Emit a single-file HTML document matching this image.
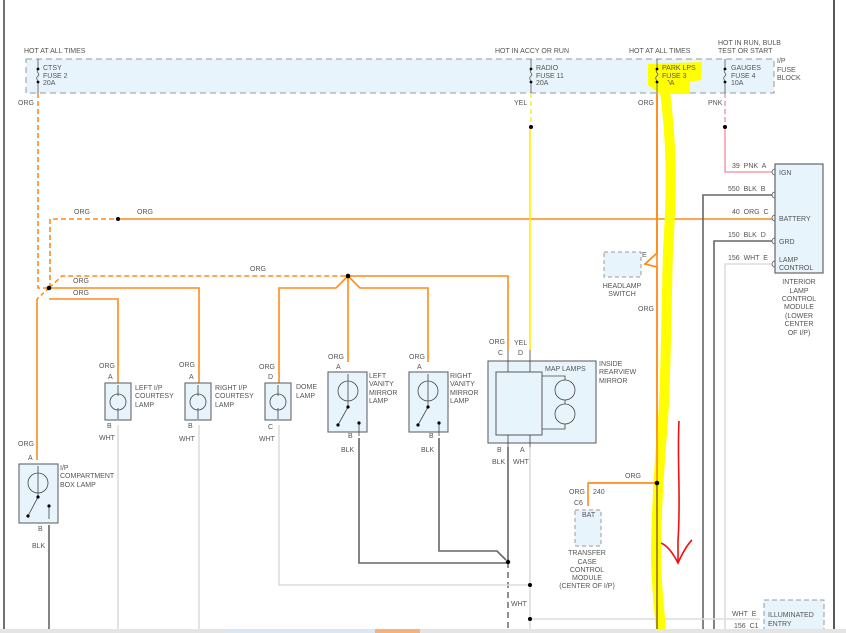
<!DOCTYPE html>
<html><head><meta charset="utf-8"><style>
html,body{margin:0;padding:0;background:#fff;width:846px;height:633px;overflow:hidden}
svg text{font-family:"Liberation Sans",sans-serif;font-size:7px;fill:#555;white-space:pre}
</style></head><body>
<svg width="846" height="633" viewBox="0 0 846 633" xmlns="http://www.w3.org/2000/svg" xml:space="preserve">
<line x1="4" y1="0" x2="4" y2="633" stroke="#444" stroke-width="1.5"/>
<line x1="834" y1="0" x2="834" y2="633" stroke="#222" stroke-width="1.5"/>
<rect x="26" y="59" width="748" height="34" fill="#e8f4fc" stroke="#999" stroke-dasharray="6,4"/>
<polygon points="648,64 702,62 701,80 690,82 690,94 660,94 648,85" fill="#ffff00"/>
<text x="24" y="53">HOT AT ALL TIMES</text>
<text x="495" y="53">HOT IN ACCY OR RUN</text>
<text x="629" y="53">HOT AT ALL TIMES</text>
<text x="718" y="45">HOT IN RUN, BULB</text>
<text x="718" y="53">TEST OR START</text>
<text x="777" y="63">I/P</text><text x="777" y="72">FUSE</text><text x="777" y="80">BLOCK</text>
<g stroke="#555" fill="none" stroke-width="0.8">
<path d="M38,59 V69 M38,82 V93 M38,69 c-3,3 3,5 0,7 c-3,2 0,4 0,6"/>
<path d="M531,59 V69 M531,82 V93 M531,69 c-3,3 3,5 0,7 c-3,2 0,4 0,6"/>
<path d="M657,59 V69 M657,82 V93 M657,69 c-3,3 3,5 0,7 c-3,2 0,4 0,6"/>
<path d="M725,59 V69 M725,82 V93 M725,69 c-3,3 3,5 0,7 c-3,2 0,4 0,6"/>
</g>
<g fill="#000"><circle cx="38" cy="69" r="1.4"/><circle cx="38" cy="82" r="1.4"/><circle cx="531" cy="69" r="1.4"/><circle cx="531" cy="82" r="1.4"/><circle cx="657" cy="69" r="1.4"/><circle cx="657" cy="82" r="1.4"/><circle cx="725" cy="69" r="1.4"/><circle cx="725" cy="82" r="1.4"/></g>
<text x="43" y="70">CTSY</text><text x="43" y="78">FUSE 2</text><text x="43" y="85">20A</text>
<text x="536" y="70">RADIO</text><text x="536" y="78">FUSE 11</text><text x="536" y="85">20A</text>
<text x="662" y="70">PARK LPS</text><text x="662" y="78">FUSE 3</text><text x="662" y="85">20A</text>
<text x="731" y="70">GAUGES</text><text x="731" y="78">FUSE 4</text><text x="731" y="85">10A</text>
<text x="18" y="105">ORG</text><text x="514" y="105">YEL</text><text x="638" y="105">ORG</text><text x="708" y="105">PNK</text>

<g stroke="#ff8c1a" stroke-width="1.6" fill="none">
<path d="M38,93 V288 H49" stroke-dasharray="5,3"/>
<path d="M50,288 V219 H118" stroke-dasharray="5,3"/>
<path d="M118,219 H772"/>
<path d="M49,288 L62,276 H348" stroke-dasharray="5,3"/>
<path d="M49,288 L37,299"  stroke-dasharray="4,3"/>
<path d="M37,299 V460"/>
<path d="M49,288 H199 V383"/>
<path d="M49,299 H118 V383"/>
<path d="M348,276 H508 V350"/>
<path d="M348,276 L336,288 H279 V383"/>
<path d="M348,276 V362"/>
<path d="M348,276 L360,288 H428 V362"/>
<path d="M657,93 V253 L645,264 L657,267"/>
<path d="M657,93 V483 H588 V506"/>
</g>
<path d="M531,93 V127" stroke="#ffee00" stroke-width="1.4" stroke-dasharray="5,3"/>
<path d="M530,127 V350" stroke="#ffee00" stroke-width="1.6" fill="none"/>
<path d="M725,93 V127" stroke="#f08a9a" stroke-width="1.3" stroke-dasharray="5,3"/>
<path d="M725,127 V172 H772" stroke="#f08a9a" stroke-width="1.3" fill="none"/>
<g stroke="#666" stroke-width="1.6" fill="none">
<path d="M772,195 H703 V633"/>
<path d="M772,241 H714 V633"/>
<path d="M49,525 V633"/>
<path d="M359,438 V563 H508"/>
<path d="M439,438 V551 H497 L506,560"/>
<path d="M508,447 V562"/>
</g>
<path d="M508,562 V633" stroke="#555" stroke-width="1.3" stroke-dasharray="6,4"/>
<g stroke="#ddd" stroke-width="1.6" fill="none">
<path d="M772,264 H725 V633"/>
<path d="M118,425 V633"/><path d="M199,425 V633"/>
<path d="M279,425 V585 H530"/>
<path d="M530,447 V630"/>
<path d="M530,619 H760"/>
</g>
<g fill="#000">
<circle cx="118" cy="219" r="2"/><circle cx="49" cy="288" r="2.3"/><circle cx="348" cy="276" r="2.3"/>
<circle cx="531" cy="127" r="2"/><circle cx="725" cy="127" r="2"/>
<circle cx="508" cy="562" r="2.2"/><circle cx="530" cy="585" r="2"/><circle cx="530" cy="619" r="2"/>
</g>

<rect x="775" y="164" width="48" height="109" fill="#e8f4fc" stroke="#666" stroke-width="1.2"/>
<g stroke="#555" fill="none" stroke-width="0.8">
<path d="M775,169 a3,3 0 0 0 0,6"/><path d="M775,192 a3,3 0 0 0 0,6"/><path d="M775,215 a3,3 0 0 0 0,6"/><path d="M775,238 a3,3 0 0 0 0,6"/><path d="M775,261 a3,3 0 0 0 0,6"/>
</g>
<text x="779" y="175">IGN</text><text x="779" y="221">BATTERY</text><text x="779" y="244">GRD</text><text x="779" y="262">LAMP</text><text x="779" y="270">CONTROL</text>
<text x="732" y="168">39  PNK  A</text><text x="728" y="191">550  BLK  B</text><text x="732" y="214">40  ORG  C</text><text x="728" y="237">150  BLK  D</text><text x="728" y="260">156  WHT  E</text>
<g text-anchor="middle"><text x="799" y="284">INTERIOR</text><text x="799" y="293">LAMP</text><text x="799" y="301">CONTROL</text><text x="799" y="309">MODULE</text><text x="799" y="318">(LOWER</text><text x="799" y="326">CENTER</text><text x="799" y="335">OF I/P)</text></g>

<rect x="604" y="252" width="37" height="25" fill="#e8f4fc" stroke="#999" stroke-dasharray="4,3"/>
<g text-anchor="middle"><text x="622" y="288">HEADLAMP</text><text x="622" y="296">SWITCH</text></g>
<text x="638" y="311">ORG</text>

<path d="M664,84 C672,140 672,190 668,250 C666,320 666,380 663,420 C658,480 656,520 656,560 C657,600 661,620 661,633" stroke="#ffff00" stroke-width="10" fill="none" stroke-linecap="round"/>
<path d="M657,93 V253 L645,264 L657,267 V483 H588" stroke="#ff8c1a" stroke-width="1.6" fill="none"/>
<path d="M657,483 V633" stroke="#8a5a20" stroke-width="1.4"/>
<circle cx="657" cy="483" r="2.3" fill="#000"/>
<text x="642" y="257">E</text>

<g stroke="#666" fill="#e8f4fc" stroke-width="1.1">
<rect x="105" y="383" width="26" height="37"/><rect x="185" y="383" width="26" height="37"/><rect x="265" y="383" width="26" height="37"/>
<rect x="328" y="372" width="39" height="60"/><rect x="409" y="372" width="39" height="60"/>
<rect x="19" y="464" width="39" height="59"/>
<rect x="488" y="361" width="108" height="82"/><rect x="496" y="372" width="46" height="63"/>
</g>
<g stroke="#444" fill="none" stroke-width="0.8">
<circle cx="118" cy="402" r="8"/><circle cx="198" cy="402" r="8"/><circle cx="278" cy="402" r="8"/>
<path d="M118,385 V396 M118,408 V419 M198,385 V396 M198,408 V419 M278,385 V396 M278,408 V419"/>
<circle cx="348" cy="391" r="10"/><circle cx="428" cy="391" r="10"/><circle cx="38" cy="483" r="10"/>
<path d="M348,374 V407 L338,425 M428,374 V407 L418,425 M38,466 V497 L28,516"/>
<path d="M359,423 V436 M439,423 V436 M49,506 V519"/>
<circle cx="565" cy="390" r="10"/><circle cx="565" cy="414" r="10"/>
<path d="M542,376 H565 V380 M565,400 V404 M565,424 V429 H542"/>
<path d="M508,350 V372 M530,350 V372 M508,435 V447 M530,435 V447"/>
</g>
<g fill="#000">
<circle cx="348" cy="407" r="1.6"/><circle cx="338" cy="425" r="1.6"/><circle cx="359" cy="423" r="1.6"/>
<circle cx="428" cy="407" r="1.6"/><circle cx="418" cy="425" r="1.6"/><circle cx="439" cy="423" r="1.6"/>
<circle cx="38" cy="497" r="1.6"/><circle cx="28" cy="516" r="1.6"/><circle cx="49" cy="506" r="1.6"/>
</g>
<text x="99" y="368">ORG</text><text x="108" y="379">A</text><text x="135" y="390">LEFT I/P</text><text x="135" y="398">COURTESY</text><text x="135" y="407">LAMP</text><text x="107" y="428">B</text><text x="99" y="440">WHT</text>
<text x="179" y="367">ORG</text><text x="189" y="379">A</text><text x="215" y="390">RIGHT I/P</text><text x="215" y="398">COURTESY</text><text x="215" y="407">LAMP</text><text x="188" y="428">B</text><text x="179" y="441">WHT</text>
<text x="259" y="369">ORG</text><text x="268" y="379">D</text><text x="296" y="389">DOME</text><text x="296" y="398">LAMP</text><text x="268" y="429">C</text><text x="259" y="441">WHT</text>
<text x="328" y="359">ORG</text><text x="336" y="369">A</text><text x="369" y="378">LEFT</text><text x="369" y="386">VANITY</text><text x="369" y="395">MIRROR</text><text x="369" y="403">LAMP</text><text x="348" y="438">B</text><text x="341" y="452">BLK</text>
<text x="409" y="359">ORG</text><text x="417" y="369">A</text><text x="450" y="378">RIGHT</text><text x="450" y="386">VANITY</text><text x="450" y="395">MIRROR</text><text x="450" y="403">LAMP</text><text x="429" y="438">B</text><text x="421" y="452">BLK</text>
<text x="18" y="446">ORG</text><text x="28" y="460">A</text><text x="60" y="470">I/P</text><text x="60" y="478">COMPARTMENT</text><text x="60" y="487">BOX LAMP</text><text x="38" y="531">B</text><text x="32" y="548">BLK</text>
<text x="489" y="344">ORG</text><text x="514" y="345">YEL</text><text x="498" y="355">C</text><text x="518" y="355">D</text>
<text x="545" y="371">MAP LAMPS</text><text x="599" y="366">INSIDE</text><text x="599" y="374">REARVIEW</text><text x="599" y="383">MIRROR</text>
<text x="497" y="452">B</text><text x="520" y="452">A</text><text x="492" y="464">BLK</text><text x="513" y="464">WHT</text>
<text x="511" y="606">WHT</text>
<text x="74" y="214">ORG</text><text x="137" y="214">ORG</text><text x="250" y="271">ORG</text><text x="73" y="283">ORG</text><text x="73" y="295">ORG</text>

<rect x="575" y="510" width="26" height="36" fill="#e8f4fc" stroke="#999" stroke-dasharray="4,3"/>
<text x="582" y="517">BAT</text>
<text x="625" y="478">ORG</text><text x="569" y="494">ORG</text><text x="593" y="494">240</text><text x="574" y="505">C6</text>
<g text-anchor="middle"><text x="587" y="555">TRANSFER</text><text x="587" y="564">CASE</text><text x="587" y="572">CONTROL</text><text x="587" y="580">MODULE</text><text x="587" y="588">(CENTER OF I/P)</text></g>

<path d="M679,421 C677,460 681,500 678,540 L678,563" stroke="#f01010" stroke-width="1.6" fill="none"/>
<path d="M661,543 C668,546 674,555 678,563 C682,554 686,546 692,540" stroke="#f01010" stroke-width="1.6" fill="none"/>

<rect x="764" y="600" width="60" height="36" fill="#e8f4fc" stroke="#999" stroke-dasharray="5,3"/>
<text x="768" y="617">ILLUMINATED</text><text x="768" y="626">ENTRY</text>
<text x="732" y="616">WHT  E</text><text x="734" y="628">156  C1</text>
<rect x="0" y="629" width="846" height="4" fill="#e4e4e4"/>
<rect x="225" y="629" width="150" height="4" fill="#dbe8f2"/>
<rect x="375" y="629" width="45" height="4" fill="#f6b27a"/>
</svg>
</body></html>
